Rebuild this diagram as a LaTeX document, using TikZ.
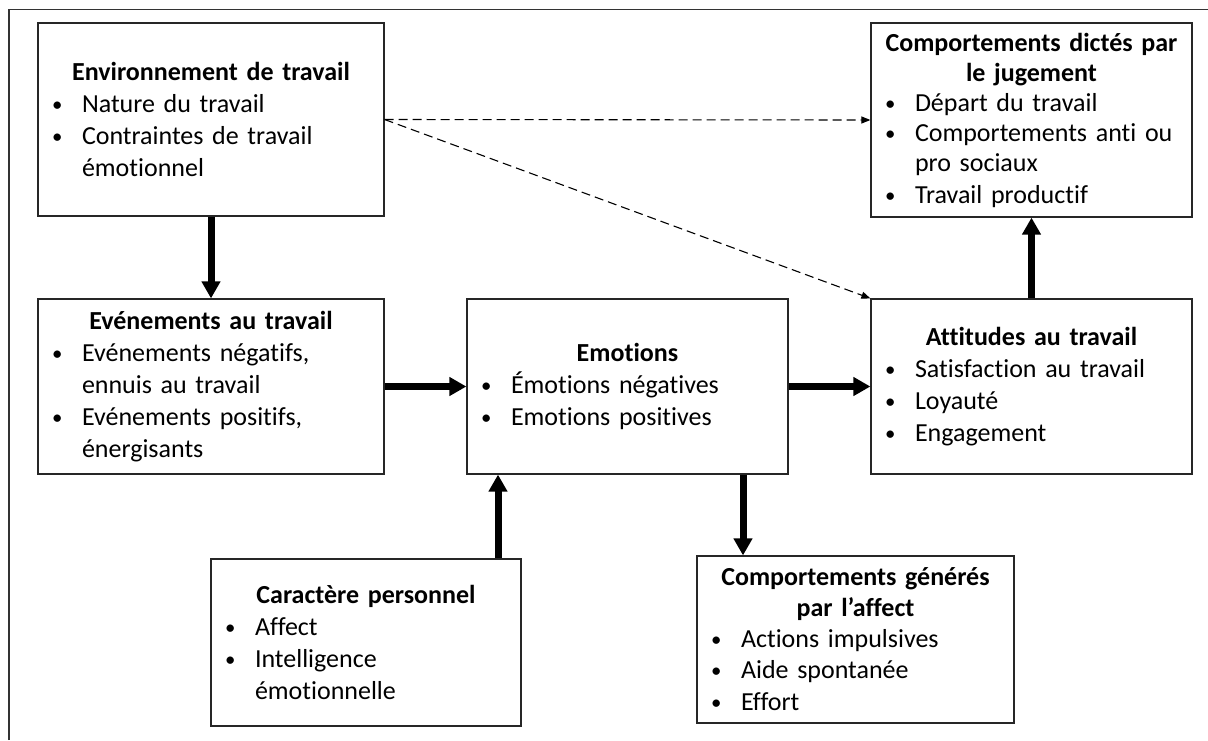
\documentclass[tikz,border=0pt]{standalone}
\usepackage{fontspec}
\usepackage{graphicx}
\setmainfont{Carlito}[Ligatures=CommonOff]
\usetikzlibrary{arrows.meta}

% title line, bullet line and continuation line of a box
\newcommand{\boxtitle}[1]{{\centering\bfseries #1\par}}
\newcommand{\bitem}[1]{\par\noindent\hspace*{14pt}\makebox[30pt][l]{\raisebox{1pt}{\scalebox{0.8}{\textbullet}}}#1}
\newcommand{\bcont}[1]{\par\noindent\hspace*{44pt}#1}

\tikzset{
  x=1pt, y=-1pt,
  box/.style 2 args={draw=black!85, line width=1.2pt, rectangle, inner sep=0pt,
    text width=#1pt, minimum width=#1pt, minimum height=#2pt, align=left,
    font=\fontsize{26}{32}\selectfont},
  flow/.style={line width=7pt, -{Triangle[width=18pt,length=17pt]}},
  weak/.style={line width=1.1pt, dash pattern=on 9pt off 5pt,
    -{Triangle[width=7pt,length=9pt]}},
}

\begin{document}
\begin{tikzpicture}
\useasboundingbox (0,0) rectangle (1208,740);
\draw[line width=1.5pt, black!80] (9,740) -- (9,9.5) -- (1208,9.5);

\node[box={346}{193}] (env) at (211,119.5) {%
  \boxtitle{Environnement de travail}%
  \bitem{Nature du travail}%
  \bitem{Contraintes de travail}%
  \bcont{émotionnel}};

\node[box={321}{194}] (jug) at (1031.5,120) {%
  \fontsize{26}{30}\selectfont
  \boxtitle{Comportements dictés par\\le jugement}%
  \bitem{Départ du travail}%
  \bitem{Comportements anti ou}%
  \bcont{pro sociaux}%
  \bitem{Travail productif}};

\node[box={346}{175}] (eve) at (211,386.5) {%
  \boxtitle{Evénements au travail}%
  \bitem{Evénements négatifs,}%
  \bcont{ennuis au travail}%
  \bitem{Evénements positifs,}%
  \bcont{énergisants}};

\node[box={321}{175}] (emo) at (627.5,386.5) {%
  \boxtitle{Emotions}%
  \bitem{Émotions négatives}%
  \bitem{Emotions positives}};

\node[box={321}{175}] (att) at (1031.5,386.5) {%
  \boxtitle{Attitudes au travail}%
  \bitem{Satisfaction au travail}%
  \bitem{Loyauté}%
  \bitem{Engagement}};

\node[box={310}{167}] (car) at (366,642.5) {%
  \boxtitle{Caractère personnel}%
  \bitem{Affect}%
  \bitem{Intelligence}%
  \bcont{émotionnelle}};

\node[box={317}{167}] (gen) at (855.5,639.5) {%
  \fontsize{26}{31}\selectfont
  \boxtitle{Comportements générés\\par l’affect}%
  \bitem{Actions impulsives}%
  \bitem{Aide spontanée}%
  \bitem{Effort}};

\coordinate (carx) at (498,0);
\coordinate (genx) at (743,0);

\draw[flow] (env.south) -- (eve.north);
\draw[flow] (eve.east) -- (emo.west);
\draw[flow] (emo.east) -- (att.west);
\draw[flow] (att.north) -- (jug.south);
\draw[flow] (carx |- car.north) -- (carx |- emo.south);
\draw[flow] (genx |- emo.south) -- (genx |- gen.north);

\draw[weak] (env.east) -- (jug.west);
\draw[weak] (env.east) -- (att.north west);
\end{tikzpicture}
\end{document}
